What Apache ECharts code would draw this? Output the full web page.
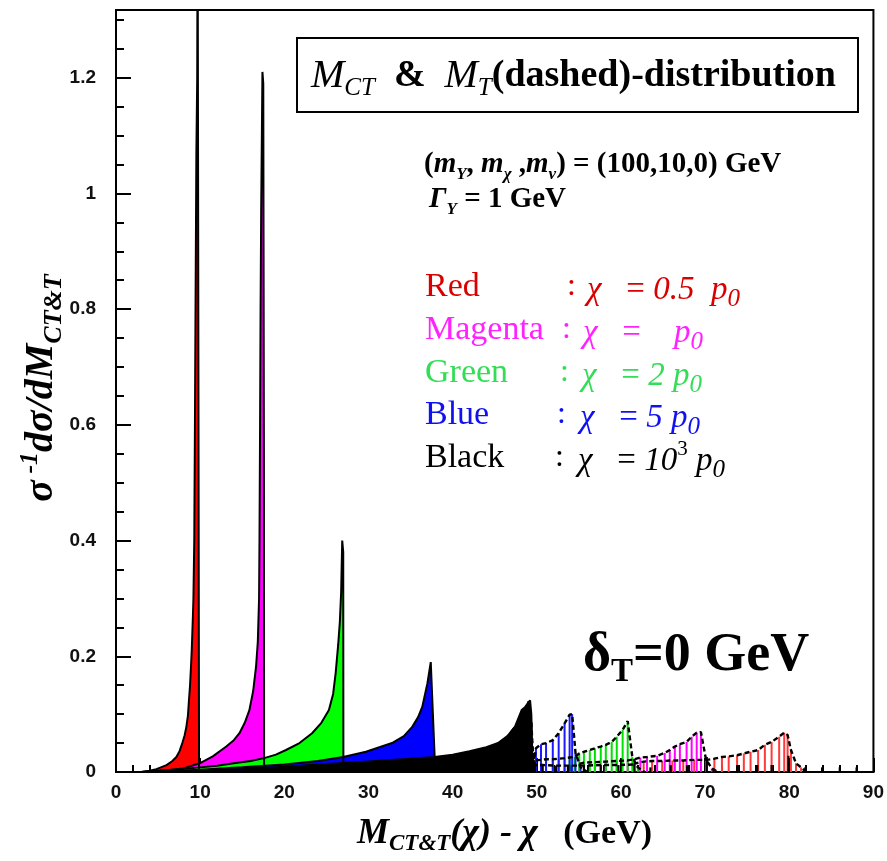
<!DOCTYPE html>
<html>
<head>
<meta charset="utf-8">
<script src="https://cdn.jsdelivr.net/npm/echarts@6/dist/echarts.min.js"></script>
<style>
  html, body { margin: 0; padding: 0; background: #fff; }
  #chart { width: 887px; height: 861px; }
</style>
</head>
<body>
<div id="chart"></div>
<script>
// ---- M_CT distributions (filled areas): [M_CT(chi) - chi  (GeV), 1/sigma dsigma/dM] ----
const mctRed = [[3,0],[4,0.002],[4.8,0.005],[6,0.012],[6.7,0.019],[7.17,0.026],[7.55,0.036],[7.88,0.05],[8.15,0.063],[8.36,0.078],[8.55,0.098],[8.67,0.124],[8.8,0.15],[8.91,0.182],[9.0,0.21],[9.07,0.24],[9.14,0.27],[9.2,0.3],[9.3,0.4],[9.38,0.6],[9.45,0.8],[9.55,1.07],[9.65,1.2],[9.7,1.5],[9.85,1.5],[9.87,0]];
const mctMagenta = [[3,0],[6,0.003],[8,0.006],[9.94,0.015],[11.5,0.027],[13.1,0.044],[14,0.055],[14.67,0.067],[15.3,0.085],[15.85,0.107],[16.3,0.14],[16.64,0.182],[16.85,0.225],[17.0,0.3],[17.05,0.4],[17.12,0.6],[17.18,0.8],[17.25,0.97],[17.4,1.21],[17.5,1.19],[17.58,0.5],[17.6,0]];
const mctGreen = [[3,0],[8,0.005],[10,0.008],[12,0.011],[14,0.015],[16,0.019],[17.6,0.024],[19,0.03],[20.2,0.038],[21.8,0.05],[23.3,0.067],[24.4,0.085],[25.3,0.107],[25.8,0.135],[26.1,0.171],[26.4,0.22],[26.6,0.26],[26.75,0.31],[26.88,0.4],[27.0,0.38],[27.02,0]];
const mctBlue = [[4,0],[10,0.004],[15,0.008],[20,0.013],[24,0.019],[27,0.026],[29.7,0.035],[32.8,0.05],[34.2,0.062],[35.2,0.078],[35.9,0.095],[36.4,0.113],[37,0.153],[37.4,0.19],[37.85,0.03],[37.87,0]];
const mctBlack = [[5,0],[10,0.002],[15,0.005],[20,0.009],[25,0.014],[30,0.018],[35,0.023],[37.85,0.026],[40,0.03],[42,0.036],[44,0.043],[45.4,0.05],[46.5,0.062],[47.4,0.078],[48.2,0.107],[48.6,0.112],[49.0,0.12],[49.2,0.124],[49.35,0.1],[49.45,0.04],[49.5,0]];

// ---- M_T distributions (hatched, dashed outline) ----
const mtRed = [[61.5,0.014],[62.7,0.018],[63.7,0.019],[64.9,0.019],[66.1,0.02],[67.4,0.02],[68.7,0.021],[70.2,0.021],[71.1,0.023],[72.0,0.026],[72.8,0.027],[73.8,0.029],[74.6,0.032],[75.4,0.035],[76.3,0.038],[77.1,0.047],[77.9,0.052],[78.8,0.061],[79.4,0.068],[79.8,0.064],[80.2,0.038],[80.8,0.015],[81.4,0.008],[82,0]];
const mtMagenta = [[55.05,0.014],[55.6,0.016],[56.9,0.017],[58.2,0.018],[59.5,0.019],[60.8,0.02],[61.6,0.022],[62.3,0.025],[63.1,0.026],[64.3,0.028],[65.2,0.033],[65.8,0.038],[66.4,0.044],[67.0,0.048],[67.8,0.052],[68.4,0.061],[69.0,0.068],[69.5,0.069],[70.1,0.022],[70.8,0.006],[71.5,0]];
const mtGreen = [[49.9,0.02],[50.5,0.021],[51.1,0.022],[51.9,0.022],[52.6,0.023],[53.3,0.024],[53.9,0.025],[54.5,0.026],[55.05,0.032],[55.6,0.035],[56.3,0.038],[56.9,0.041],[57.6,0.044],[58.2,0.047],[58.9,0.052],[59.5,0.061],[60.2,0.073],[60.8,0.088],[61.35,0.026],[62,0.008],[62.8,0]];
const mtBlue = [[49.6,0.012],[49.9,0.041],[50.5,0.048],[51.1,0.05],[51.9,0.055],[52.6,0.067],[53.3,0.084],[53.9,0.099],[54.2,0.1],[54.6,0.033],[55.2,0.008],[56,0]];
const mtBlack = [[47.0,0.07],[47.8,0.085],[48.5,0.1],[49.05,0.122],[49.35,0.084],[49.55,0.033],[49.8,0.012],[50.7,0.012],[52.3,0.011],[53.7,0.011],[55.6,0.011],[57.6,0.012],[59.7,0.012],[61.6,0.013]];
const mtBlackTail = [[63.5,0.008],[65.9,0.012],[67.85,0.012],[70.2,0.026],[71.0,0.006],[73.8,0.012],[76.2,0.012],[77.9,0.012],[79.9,0.028],[81.9,0.008],[83.9,0.008],[86.0,0.008],[88.0,0.008]];

// ---- axes ----
const xRange = [0, 90];
const yRange = [0, 1.317];
const xStep = 10;
const yStep = 0.2;
const yMinorStep = 0.05;

// ---- annotation text ----
const legendNames = ['Red', 'Magenta', 'Green', 'Blue', 'Black'];
const legendColors = ['#d80000', '#ff22ff', '#33dd55', '#1010f0', '#000000'];
const legendFormulas = [
  '{i|\u03c7}{n|   = }{i|0.5}{n|  }{i|p}{s|0}',
  '{i|\u03c7}{n|   =  }{n|  }{i|p}{s|0}',
  '{i|\u03c7}{n|   = }{i|2}{n| }{i|p}{s|0}',
  '{i|\u03c7}{n|   = }{i|5}{n| }{i|p}{s|0}',
  '{i|\u03c7}{n|   = }{i|10}{p|3}{n| }{i|p}{s|0}'
];

const serif = "'Liberation Serif', 'Times New Roman', serif";
const sans = "'Liberation Sans', Arial, sans-serif";

const fillColors = { red: '#ff0000', magenta: '#ff00ff', green: '#00ff00', blue: '#0000ff', black: '#000000' };

function mctSeries(name, data, color) {
  return {
    type: 'line', name, data, symbol: 'none', z: 2, silent: true,
    lineStyle: { color: '#000', width: 2 },
    areaStyle: { color, opacity: 1 }
  };
}
function hatchSeries(name, data, color, width) {
  return {
    type: 'custom', name, data, z: 3, silent: true, clip: true,
    encode: { x: 0, y: 1 },
    renderItem: function (params, api) {
      const x = api.value(0), y = api.value(1);
      const a = api.coord([x, 0]);
      const b = api.coord([x, y]);
      return { type: 'line', shape: { x1: a[0], y1: a[1], x2: b[0], y2: b[1] },
               style: { stroke: color, lineWidth: width } };
    }
  };
}
function dashedSeries(name, data) {
  return {
    type: 'line', name, data, symbol: 'none', z: 4, silent: true,
    lineStyle: { color: '#000', width: 2.4, type: [5, 3] }
  };
}

const legendGraphics = [];
const rowY = [287, 330, 373, 415, 458];
const colonX = [567, 562, 560, 557, 555];
const formulaX = [587, 583, 582, 580, 578];
legendNames.forEach(function (nm, k) {
  const c = legendColors[k];
  legendGraphics.push({
    type: 'text', x: 425, y: rowY[k],
    style: { text: nm, fill: c, font: '34px ' + serif, verticalAlign: 'middle', align: 'left' }
  });
  legendGraphics.push({
    type: 'text', x: colonX[k], y: rowY[k],
    style: { text: ':', fill: c, font: '32px ' + serif, verticalAlign: 'middle', align: 'left' }
  });
  legendGraphics.push({
    type: 'text', x: formulaX[k], y: rowY[k] + 3,
    style: {
      text: legendFormulas[k], fill: c, verticalAlign: 'middle', align: 'left',
      rich: {
        i: { fill: c, fontFamily: serif, fontSize: 33, fontStyle: 'italic', lineHeight: 44 },
        n: { fill: c, fontFamily: serif, fontSize: 33, lineHeight: 44 },
        s: { fill: c, fontFamily: serif, fontSize: 25, fontStyle: 'italic', lineHeight: 25, verticalAlign: 'bottom' },
        p: { fill: c, fontFamily: serif, fontSize: 21, lineHeight: 21, verticalAlign: 'top' }
      }
    }
  });
});

const chart = echarts.init(document.getElementById('chart'));
chart.setOption({
  animation: false,
  backgroundColor: '#fff',
  grid: { left: 116, right: 9, top: 10, bottom: 89, show: true, borderColor: '#000', borderWidth: 2, backgroundColor: 'transparent' },
  xAxis: {
    type: 'value', min: xRange[0], max: xRange[1], interval: xStep,
    axisLine: { lineStyle: { color: '#000', width: 2 } },
    axisTick: { inside: true, length: 14, lineStyle: { color: '#000', width: 2 } },
    minorTick: { show: true, splitNumber: 5, length: 7, lineStyle: { color: '#000', width: 2 } },
    axisLabel: { margin: 11, color: '#111', fontFamily: sans, fontWeight: 'bold', fontSize: 19 },
    splitLine: { show: false }
  },
  yAxis: [{
    type: 'value', min: yRange[0], max: yRange[1], interval: yStep,
    axisLine: { show: true, lineStyle: { color: '#000', width: 2 } },
    axisTick: { inside: true, length: 15, lineStyle: { color: '#000', width: 2 } },
    axisLabel: { margin: 20, showMaxLabel: false, color: '#111', fontFamily: sans, fontWeight: 'bold', fontSize: 19 },
    splitLine: { show: false }
  }, {
    type: 'value', min: yRange[0], max: yRange[1], interval: yMinorStep, position: 'left',
    axisLine: { show: false },
    axisTick: { inside: true, length: 8, lineStyle: { color: '#000', width: 2 } },
    axisLabel: { show: false },
    splitLine: { show: false }
  }],
  series: [
    mctSeries('red', mctRed, fillColors.red),
    mctSeries('magenta', mctMagenta, fillColors.magenta),
    mctSeries('green', mctGreen, fillColors.green),
    mctSeries('blue', mctBlue, fillColors.blue),
    mctSeries('black', mctBlack, fillColors.black),
    hatchSeries('mt-red', mtRed, '#ff3a3a', 2),
    hatchSeries('mt-magenta', mtMagenta, '#ff00ff', 2),
    hatchSeries('mt-green', mtGreen, '#00e000', 2),
    hatchSeries('mt-blue', mtBlue, '#1a1aff', 2),
    hatchSeries('mt-black', mtBlack, '#000', 2.2),
    hatchSeries('mt-black-tail', mtBlackTail, '#000', 2.2),
    dashedSeries('mt-red-outline', mtRed),
    dashedSeries('mt-magenta-outline', mtMagenta),
    dashedSeries('mt-green-outline', mtGreen),
    dashedSeries('mt-blue-outline', mtBlue),
    dashedSeries('mt-black-outline', mtBlack)
  ],
  graphic: { elements: [
    // title box
    { type: 'rect', shape: { x: 297, y: 38, width: 561, height: 74 },
      style: { fill: '#fff', stroke: '#000', lineWidth: 2 }, z: 10 },
    { type: 'text', x: 311, y: 76, z: 11,
      style: {
        text: '{i|M}{s|CT}{b|  &  }{i|M}{s|T}{b|(dashed)-distribution}',
        verticalAlign: 'middle', align: 'left',
        rich: {
          i: { fontFamily: serif, fontSize: 40, fontStyle: 'italic', lineHeight: 50 },
          s: { fontFamily: serif, fontSize: 25, fontStyle: 'italic', lineHeight: 25, verticalAlign: 'bottom' },
          b: { fontFamily: serif, fontSize: 38, fontWeight: 'bold', lineHeight: 50 }
        }
      } },
    // physics parameters
    { type: 'text', x: 424, y: 165, z: 11,
      style: {
        text: '{b|(}{i|m}{s|Y}{b|, }{i|m}{s|\u03c7}{b| ,}{i|m}{s|\u03bd}{b|) = (100,10,0) GeV}',
        verticalAlign: 'middle', align: 'left',
        rich: {
          b: { fontFamily: serif, fontSize: 29, fontWeight: 'bold', lineHeight: 36 },
          i: { fontFamily: serif, fontSize: 29, fontWeight: 'bold', fontStyle: 'italic', lineHeight: 36 },
          s: { fontFamily: serif, fontSize: 17, fontWeight: 'bold', fontStyle: 'italic', lineHeight: 17, verticalAlign: 'bottom' }
        }
      } },
    { type: 'text', x: 429, y: 200, z: 11,
      style: {
        text: '{i|\u0393}{s|Y}{b| = 1 GeV}',
        verticalAlign: 'middle', align: 'left',
        rich: {
          b: { fontFamily: serif, fontSize: 29, fontWeight: 'bold', lineHeight: 36 },
          i: { fontFamily: serif, fontSize: 29, fontWeight: 'bold', fontStyle: 'italic', lineHeight: 36 },
          s: { fontFamily: serif, fontSize: 17, fontWeight: 'bold', fontStyle: 'italic', lineHeight: 17, verticalAlign: 'bottom' }
        }
      } },
    // delta_T annotation
    { type: 'text', x: 583, y: 656, z: 11,
      style: {
        text: '{b|\u03b4}{s|T}{b|=0 GeV}',
        verticalAlign: 'middle', align: 'left',
        rich: {
          b: { fontFamily: serif, fontSize: 54, fontWeight: 'bold', lineHeight: 66 },
          s: { fontFamily: serif, fontSize: 33, fontWeight: 'bold', lineHeight: 33, verticalAlign: 'bottom' }
        }
      } },
    // y-axis title
    { type: 'text', x: 42, y: 388, rotation: Math.PI / 2, z: 11,
      style: {
        text: '{i|\u03c3}{p| -1}{i|d\u03c3/dM}{s|CT&T}',
        verticalAlign: 'middle', align: 'center',
        rich: {
          i: { fontFamily: serif, fontSize: 40, fontWeight: 'bold', fontStyle: 'italic', lineHeight: 50 },
          p: { fontFamily: serif, fontSize: 26, fontWeight: 'bold', fontStyle: 'italic', lineHeight: 26, verticalAlign: 'top' },
          s: { fontFamily: serif, fontSize: 26, fontWeight: 'bold', fontStyle: 'italic', lineHeight: 26, verticalAlign: 'bottom' }
        }
      } },
    // x-axis title
    { type: 'text', x: 357, y: 834, z: 11,
      style: {
        text: '{i|M}{s|CT&T}{i|(\u03c7) - \u03c7}{b|   (GeV)}',
        verticalAlign: 'middle', align: 'left',
        rich: {
          i: { fontFamily: serif, fontSize: 36, fontWeight: 'bold', fontStyle: 'italic', lineHeight: 44 },
          s: { fontFamily: serif, fontSize: 23, fontWeight: 'bold', fontStyle: 'italic', lineHeight: 23, verticalAlign: 'bottom' },
          b: { fontFamily: serif, fontSize: 34, fontWeight: 'bold', lineHeight: 44 }
        }
      } }
  ].concat(legendGraphics.map(function (g) { g.z = 11; return g; })) }
});
</script>
</body>
</html>
